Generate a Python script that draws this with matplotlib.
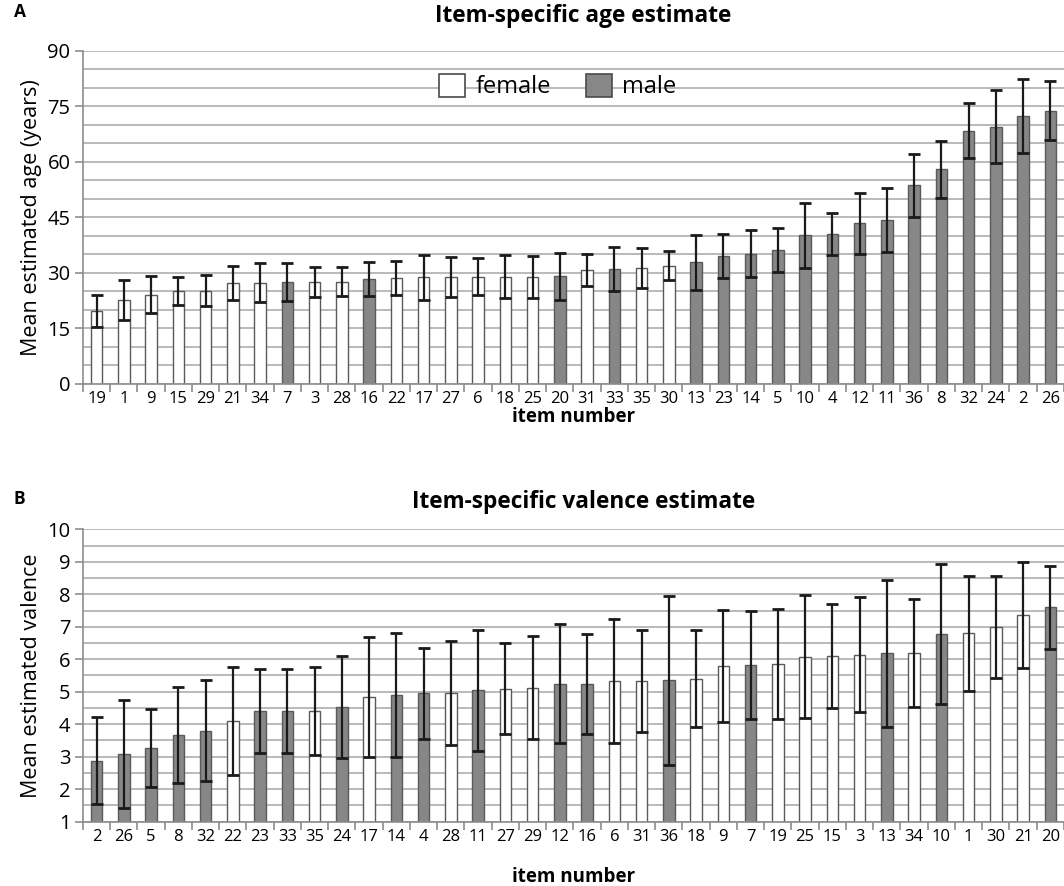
import numpy as np
import matplotlib
matplotlib.use("Agg")
import matplotlib.pyplot as plt
from matplotlib.patches import Patch
from matplotlib.ticker import MultipleLocator

plt.rcParams["font.family"] = ["Open Sans", "DejaVu Sans"]

# items shown as male faces (grey bars); the rest are female (white bars)
male_items = [7, 16, 20, 33, 13, 23, 14, 5, 10, 4, 12, 11, 36, 8, 32, 24, 2, 26]

# panel A: age
age_items = [19, 1, 9, 15, 29, 21, 34, 7, 3, 28, 16, 22, 17, 27, 6, 18, 25, 20,
             31, 33, 35, 30, 13, 23, 14, 5, 10, 4, 12, 11, 36, 8, 32, 24, 2, 26]
age_mean = [19.7, 22.7, 24.1, 25.1, 25.2, 27.2, 27.4, 27.5, 27.6, 27.6, 28.3, 28.6,
            28.8, 28.9, 28.9, 28.9, 28.9, 29.1, 30.7, 31.0, 31.3, 31.9, 32.9, 34.6,
            35.2, 36.2, 40.1, 40.5, 43.4, 44.2, 53.6, 58.0, 68.4, 69.5, 72.4, 73.8]
age_err = [4.2, 5.4, 5.0, 3.7, 4.1, 4.6, 5.3, 5.2, 4.0, 3.9, 4.6, 4.5,
           6.0, 5.3, 5.0, 5.8, 5.6, 6.4, 4.3, 6.0, 5.5, 3.9, 7.4, 6.0,
           6.4, 6.0, 8.7, 5.8, 8.2, 8.6, 8.6, 7.7, 7.5, 9.8, 10.0, 7.9]

# panel B: valence
val_items = [2, 26, 5, 8, 32, 22, 23, 33, 35, 24, 17, 14, 4, 28, 11, 27, 29, 12,
             16, 6, 31, 36, 18, 9, 7, 19, 25, 15, 3, 13, 34, 10, 1, 30, 21, 20]
val_mean = [2.88, 3.09, 3.26, 3.66, 3.80, 4.11, 4.40, 4.40, 4.40, 4.53, 4.84, 4.90,
            4.95, 4.95, 5.04, 5.09, 5.13, 5.25, 5.24, 5.33, 5.33, 5.35, 5.40, 5.80,
            5.82, 5.85, 6.08, 6.11, 6.14, 6.18, 6.20, 6.78, 6.80, 7.00, 7.35, 7.60]
val_err = [1.35, 1.67, 1.20, 1.48, 1.55, 1.66, 1.30, 1.30, 1.35, 1.57, 1.85, 1.90,
           1.40, 1.60, 1.87, 1.40, 1.60, 1.84, 1.55, 1.90, 1.56, 2.60, 1.50, 1.73,
           1.65, 1.70, 1.90, 1.60, 1.77, 2.26, 1.66, 2.16, 1.77, 1.57, 1.63, 1.28]

MALE_COLOR = "#878787"
FEMALE_COLOR = "white"
GRID_COLOR = "#b4b4b4"


def draw_panel(ax, items, means, errs, ylim, major, minor, ylabel, title,
               title_pad, xlabel_pad):
    x = np.arange(len(items))
    colors = [MALE_COLOR if it in male_items else FEMALE_COLOR for it in items]
    bottom = ylim[0]
    heights = np.array(means) - bottom
    ax.bar(x, heights, bottom=bottom, width=0.42, color=colors,
           edgecolor="#5a5a5a", linewidth=1.0, zorder=2)
    ax.errorbar(x, means, yerr=errs, fmt="none", ecolor="#1a1a1a",
                elinewidth=1.6, capsize=4, capthick=2.0, zorder=3)

    ax.set_xlim(-0.5, len(items) - 0.5)
    ax.set_ylim(*ylim)
    ax.yaxis.set_major_locator(MultipleLocator(major))
    ax.yaxis.set_minor_locator(MultipleLocator(minor))
    ax.grid(axis="y", which="both", color=GRID_COLOR, linewidth=1.3)
    ax.set_axisbelow(True)

    ax.set_xticks(x)
    ax.set_xticklabels([str(i) for i in items], fontsize=12)
    ax.set_xticks(np.arange(len(items) + 1) - 0.5, minor=True)
    ax.tick_params(axis="x", which="major", length=0, pad=5)
    ax.tick_params(axis="x", which="minor", length=6, color="#8c8c8c", width=1.2)
    ax.tick_params(axis="y", which="major", labelsize=14.5, length=6,
                   color="#8c8c8c", width=1.2, pad=3)
    ax.tick_params(axis="y", which="minor", length=0)

    for side in ["top", "right"]:
        ax.spines[side].set_visible(False)
    for side in ["left", "bottom"]:
        ax.spines[side].set_color("#8c8c8c")
        ax.spines[side].set_linewidth(1.2)

    ax.set_ylabel(ylabel, fontsize=15.5, labelpad=4)
    ax.set_xlabel("item number", fontsize=13.5, fontweight="bold", labelpad=xlabel_pad)
    ax.set_title(title, fontsize=16.3, fontweight="bold", pad=title_pad, x=0.51)


fig = plt.figure(figsize=(10.64, 8.86), dpi=100)
ax_a = fig.add_axes([0.078, 0.5666, 0.922, 0.3762])
ax_b = fig.add_axes([0.078, 0.0726, 0.922, 0.3300])

draw_panel(ax_a, age_items, age_mean, age_err, (0, 90), 15, 5,
           "Mean estimated age (years)", "Item-specific age estimate", 21, 0)
draw_panel(ax_b, val_items, val_mean, val_err, (1, 10), 1, 0.5,
           "Mean estimated valence", "Item-specific valence estimate", 15, 16)

fig.text(0.013, 1 - 12 / 886, "A", fontsize=12.5, fontweight="bold", va="center", ha="left")
fig.text(0.013, 1 - 499 / 886, "B", fontsize=12.5, fontweight="bold", va="center", ha="left")

handles = [Patch(facecolor=FEMALE_COLOR, edgecolor="#4a4a4a", linewidth=1.2, label="female"),
           Patch(facecolor=MALE_COLOR, edgecolor="#4a4a4a", linewidth=1.2, label="male")]
ax_a.legend(handles=handles, loc="upper center", bbox_to_anchor=(0.484, 0.995), ncol=2,
            frameon=False, fontsize=17, handlelength=1.1, handleheight=1.15,
            handletextpad=0.45, columnspacing=1.45)

fig.savefig("out.png", dpi=100, facecolor="white")
